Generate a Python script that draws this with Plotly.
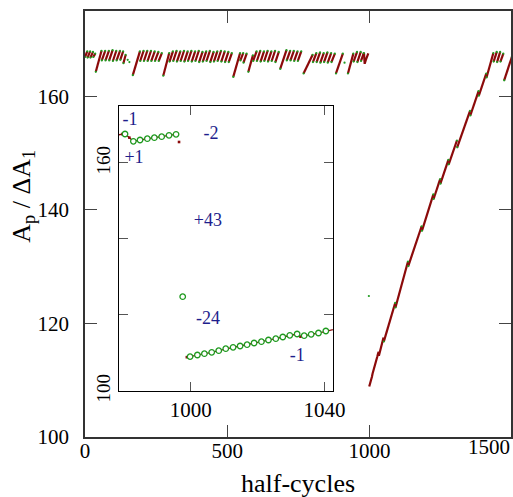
import plotly.graph_objects as go

# ---------------- data ----------------
# main series: rising strokes of the saw-tooth (start -> end of each stroke)
tooth_x0 = [0, 9, 19, 29, 38, 59, 72, 85, 98, 111, 124, 135,
            168, 194, 207, 220, 233, 246, 259, 275,
            297, 310, 323, 336, 349, 362, 375, 388, 401, 414, 427, 440, 453, 466, 479, 492, 505,
            521, 546, 557, 574,
            591, 604, 617, 630, 643, 656, 669,
            686, 709, 722, 735, 748,
            768, 801, 814, 827, 840, 853, 866,
            882, 924, 944, 957, 970,
            1050, 1091, 1136, 1184, 1225, 1249, 1278, 1308, 1354, 1384, 1411, 1436, 1448, 1460, 1473]
tooth_y0 = [166.9, 166.8, 166.8, 166.9, 164.3, 166.3, 166.3, 166.3, 166.2, 166.3, 166.4, 165.8,
            163.7, 166.2, 166.2, 166.2, 166.2, 166.2, 166.2, 163.6,
            166.1, 166.2, 166.1, 166.2, 166.1, 166.2, 166.1, 166.2, 166.0, 166.1, 166.2, 166.0, 166.1, 166.2,
            166.1, 166.0, 166.0,
            163.4, 166.3, 165.9, 164.3,
            166.2, 166.2, 166.1, 166.2, 166.1, 166.2, 166.0,
            164.8, 166.3, 166.3, 166.2, 166.2,
            164.0, 166.0, 166.0, 165.9, 166.0, 165.9, 166.0,
            164.0, 164.0, 166.1, 166.0, 166.2,
            116.8, 122.8, 130.1, 136.3, 141.9, 144.6, 148.0, 151.0, 156.6, 160.1, 163.3, 166.1, 166.0, 166.1, 162.8]
tooth_x1 = [8, 18, 28, 36, 58, 71, 84, 97, 110, 123, 134, 143,
            193, 206, 219, 232, 245, 258, 270, 296,
            309, 322, 335, 348, 361, 374, 387, 400, 413, 426, 439, 452, 465, 478, 491, 504, 516,
            545, 556, 568, 590,
            603, 616, 629, 642, 655, 668, 681,
            708, 721, 734, 747, 760,
            800, 813, 826, 839, 852, 865, 878,
            906, 943, 956, 969, 979.6,
            1090, 1135, 1183, 1224, 1248, 1277, 1307, 1353, 1383, 1410, 1435, 1447, 1459, 1470, 1500]
tooth_y1 = [167.9, 167.9, 167.8, 167.5, 168.0, 168.0, 168.0, 168.1, 168.0, 168.0, 167.9, 167.3,
            167.9, 168.0, 168.0, 168.0, 167.9, 167.8, 167.6, 167.6,
            167.9, 168.0, 167.9, 168.0, 167.9, 168.0, 167.9, 168.0, 167.8, 167.9, 168.0, 167.8, 167.9, 168.0,
            167.9, 167.8, 167.6,
            167.6, 167.6, 167.5, 167.2,
            167.9, 168.0, 167.9, 168.0, 167.9, 168.0, 167.8,
            168.1, 168.0, 168.0, 167.9, 167.9,
            167.3, 167.6, 167.7, 167.6, 167.7, 167.6, 167.5,
            167.5, 167.5, 167.8, 167.8, 167.6,
            123.6, 130.9, 137.1, 142.7, 145.4, 148.8, 152.2, 157.4, 160.9, 164.0, 167.6, 167.8, 167.8, 167.5, 166.9]

# isolated points of the main series
dot_x = [150, 156, 912, 997.56]
dot_y = [166.4, 166.0, 165.9, 124.82]

# region shown in the inset: every half-cycle (red line + dots)
top_x = [979.6, 980.3, 981.6, 982.8, 984.79, 986.98, 989.08, 991.27, 993.47, 995.57, None, 996.46, None]
top_y = [167.6, 167.63, 166.67, 165.7, 166.05, 166.4, 166.67, 166.93, 167.28, 167.54, None, 165.53, None]
low_x = [998.8, 999.76, 1001.95, 1004.05, 1006.24, 1008.34, 1010.44, 1012.63, 1014.73, 1016.82, 1018.92,
         1021.11, 1023.21, 1025.41, 1027.5, 1029.6, 1031.79, 1032.8, 1033.89, 1035.99, 1038.18, 1040.38, 1049]
low_y = [108.9, 109.04, 109.47, 109.82, 110.18, 110.61, 111.14, 111.49, 111.84, 112.19, 112.63,
         112.98, 113.42, 113.77, 114.21, 114.65, 115.0, 114.3, 114.56, 114.91, 115.26, 115.79, 117.5]

# every second half-cycle (green circles in the inset)
cyc_x = [980.3, 982.8, 984.79, 986.98, 989.08, 991.27, 993.47, 995.57, 997.56,
         999.76, 1001.95, 1004.05, 1006.24, 1008.34, 1010.44, 1012.63, 1014.73, 1016.82, 1018.92,
         1021.11, 1023.21, 1025.41, 1027.5, 1029.6, 1031.79, 1033.89, 1035.99, 1038.18, 1040.38]
cyc_y = [167.63, 165.7, 166.05, 166.4, 166.67, 166.93, 167.28, 167.54, 124.82,
         109.04, 109.47, 109.82, 110.18, 110.61, 111.14, 111.49, 111.84, 112.19, 112.63,
         112.98, 113.42, 113.77, 114.21, 114.65, 115.0, 114.56, 114.91, 115.26, 115.79]

# inset labels
lab_text = ["-1", "-2", "+1", "+43", "-24", "-1"]
lab_x = [981.8, 1006.0, 983.0, 1005.1, 1005.1, 1031.8]
lab_y = [171.3, 167.6, 161.3, 144.5, 118.7, 109.2]

# ---------------- assemble line paths (segments separated by gaps) ----------------
seg_x, seg_y = [], []
for a, b, c, d in zip(tooth_x0, tooth_y0, tooth_x1, tooth_y1):
    seg_x += [a, c, None]
    seg_y += [b, d, None]
path_x = seg_x + top_x + low_x + [None]
path_y = seg_y + top_y + low_y + [None]
tip_x = tooth_x0 + tooth_x1 + dot_x
tip_y = tooth_y0 + tooth_y1 + dot_y

RED = "#8b0a0a"
GREEN = "#1f9a1f"
BLUE = "#1e1e8c"
FONT = "Liberation Serif"

fig = go.Figure()
# main panel
fig.add_trace(go.Scatter(x=path_x, y=path_y, mode="lines", line=dict(color=RED, width=2.2),
                         connectgaps=False, hoverinfo="skip", xaxis="x", yaxis="y"))
fig.add_trace(go.Scatter(x=tip_x, y=tip_y, mode="markers", marker=dict(color=GREEN, size=2.2),
                         hoverinfo="skip", xaxis="x", yaxis="y"))
# inset
fig.add_trace(go.Scatter(x=path_x, y=path_y, mode="lines+markers", line=dict(color=RED, width=1.3),
                         marker=dict(color=RED, size=2.6, symbol="square"),
                         connectgaps=False, hoverinfo="skip", xaxis="x2", yaxis="y2"))
fig.add_trace(go.Scatter(x=cyc_x, y=cyc_y, mode="markers",
                         marker=dict(color="white", size=5.5, symbol="circle",
                                     line=dict(color=GREEN, width=1.3)),
                         hoverinfo="skip", xaxis="x2", yaxis="y2"))
fig.add_trace(go.Scatter(x=lab_x, y=lab_y, mode="text", text=lab_text,
                         textfont=dict(family=FONT, size=18, color=BLUE),
                         hoverinfo="skip", xaxis="x2", yaxis="y2"))

axis_common = dict(showgrid=False, zeroline=False, showline=True, mirror="ticks",
                   ticks="inside", linecolor="#333333", tickcolor="#444444", automargin=False)

fig.update_layout(
    width=513, height=497,
    margin=dict(l=85, r=2, t=11, b=60),
    paper_bgcolor="white", plot_bgcolor="white",
    showlegend=False,
    font=dict(family=FONT, color="black"),
    xaxis=dict(domain=[0, 1], range=[0, 1497], tickvals=[0, 500, 1000],
               ticklen=12, linewidth=1.5, tickwidth=1.2,
               tickfont=dict(family=FONT, size=21), ticklabelstandoff=-6,
               anchor="y", **axis_common),
    yaxis=dict(domain=[0, 1], range=[100, 175], tickvals=[100, 120, 140, 160],
               ticklen=12, linewidth=1.5, tickwidth=1.2,
               tickfont=dict(family=FONT, size=21), ticklabelstandoff=10,
               anchor="x", **axis_common),
    xaxis2=dict(domain=[0.0798, 0.582], range=[978.5, 1042.5], tickvals=[1000, 1040],
                ticklen=9, linewidth=1, tickwidth=1, anchor="y2", automargin=False,
                tickfont=dict(family=FONT, size=21), ticklabelstandoff=0,
                showgrid=False, zeroline=False, showline=True, mirror="ticks",
                ticks="inside", linecolor="black", tickcolor="#555555"),
    yaxis2=dict(domain=[0.108, 0.777], range=[100, 175], tickvals=[100, 120, 140, 160],
                ticktext=["100", "", "", "160"], tickangle=-90, automargin=False,
                ticklen=9, linewidth=1, tickwidth=1, anchor="x2",
                tickfont=dict(family=FONT, size=19), ticklabelstandoff=0,
                showgrid=False, zeroline=False, showline=True, mirror="ticks",
                ticks="inside", linecolor="black", tickcolor="#555555"),
    annotations=[
        dict(text="1500", xref="paper", yref="paper", x=1, y=0, xanchor="right", yanchor="top",
             xshift=1, yshift=4, showarrow=False, font=dict(family=FONT, size=21, color="black")),
        dict(text="half-cycles", xref="paper", yref="paper", x=0.5, y=0, xanchor="center",
             yanchor="top", yshift=-30, showarrow=False, font=dict(family=FONT, size=26, color="black")),
        dict(text="A<sub>p</sub> / ΔA<sub>1</sub>", xref="paper", yref="paper", x=-0.146, y=0.566,
             xanchor="center", yanchor="middle", textangle=-90, showarrow=False,
             font=dict(family=FONT, size=26, color="black")),
    ],
)

# remove the page's default 8 px body margin so the figure fills the window exactly
fig.write_html("out.html",
               config={"displayModeBar": False},
               post_script="document.body.style.margin='0';"
                           "document.documentElement.style.overflow='hidden';")
